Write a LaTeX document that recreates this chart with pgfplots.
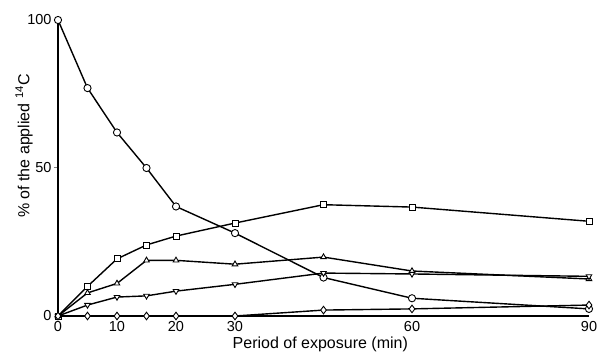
\documentclass[border=0pt]{standalone}
\usepackage{pgfplots}
\pgfplotsset{compat=1.18}
\usepackage{fontspec}
\setmainfont{Liberation Sans}
\begin{document}
\begin{tikzpicture}
\useasboundingbox (-58pt,-37pt) rectangle (541pt,316pt);
\begin{axis}[
  at={(0pt,0pt)}, anchor=south west,
  scale only axis, width=531pt, height=296pt,
  xmin=0, xmax=90, ymin=0, ymax=100,
  axis lines=left,
  axis line style={-, line width=1.2pt},
  clip=false,
  xtick={0,10,20,30,60,90},
  ytick={0,50,100},
  xtick style={draw=none},
  ytick style={line width=1pt},
  tick align=outside,
  major tick length=4pt,
  /pgf/number format/assume math mode=true,
  tick label style={font=\fontsize{14.5}{16}\selectfont},
  xticklabel style={yshift=2.5pt},
  yticklabel style={xshift=1pt},
  xlabel={Period of exposure (min)},
  ylabel={\% of the applied \textsuperscript{14}C},
  label style={font=\fontsize{16}{18}\selectfont},
  xlabel style={at={(axis description cs:0.494,-0.097)}, anchor=center},
  ylabel style={at={(axis description cs:-0.064,0.574)}, anchor=center, rotate=0},
  every axis plot/.append style={line width=1.4pt, black},
]
% circles
\addplot[mark=*, mark size=3.6pt, mark options={fill=white, line width=0.9pt, solid}] coordinates {
(0,100) (5,77) (10,62) (15,50) (20,37) (30,28) (45,13) (60,6) (90,2.4)};
% squares
\addplot[mark=square*, mark size=3pt, mark options={fill=white, line width=0.9pt, solid}] coordinates {
(0,0) (5,10) (10,19.3) (15,24) (20,27) (30,31.4) (45,37.6) (60,36.8) (90,32)};
% triangles up
\addplot[mark=triangle*, mark size=3.2pt, mark options={fill=white, line width=0.9pt, solid}] coordinates {
(0,0) (5,7.8) (10,11) (15,18.8) (20,18.8) (30,17.5) (45,19.9) (60,15.2) (90,12.5)};
% triangles down
\addplot[mark=triangle*, mark size=3.2pt, mark options={fill=white, line width=0.9pt, solid, rotate=180}] coordinates {
(0,0) (5,3.7) (10,6.4) (15,6.8) (20,8.4) (30,10.7) (45,14.5) (60,14.2) (90,13.4)};
% diamonds
\addplot[mark=diamond*, mark size=3.8pt, mark options={fill=white, line width=0.9pt, solid}] coordinates {
(0,0) (5,0) (10,0) (15,0) (20,0) (30,0) (45,2) (60,2.4) (90,3.7)};
\end{axis}
\end{tikzpicture}
\end{document}
